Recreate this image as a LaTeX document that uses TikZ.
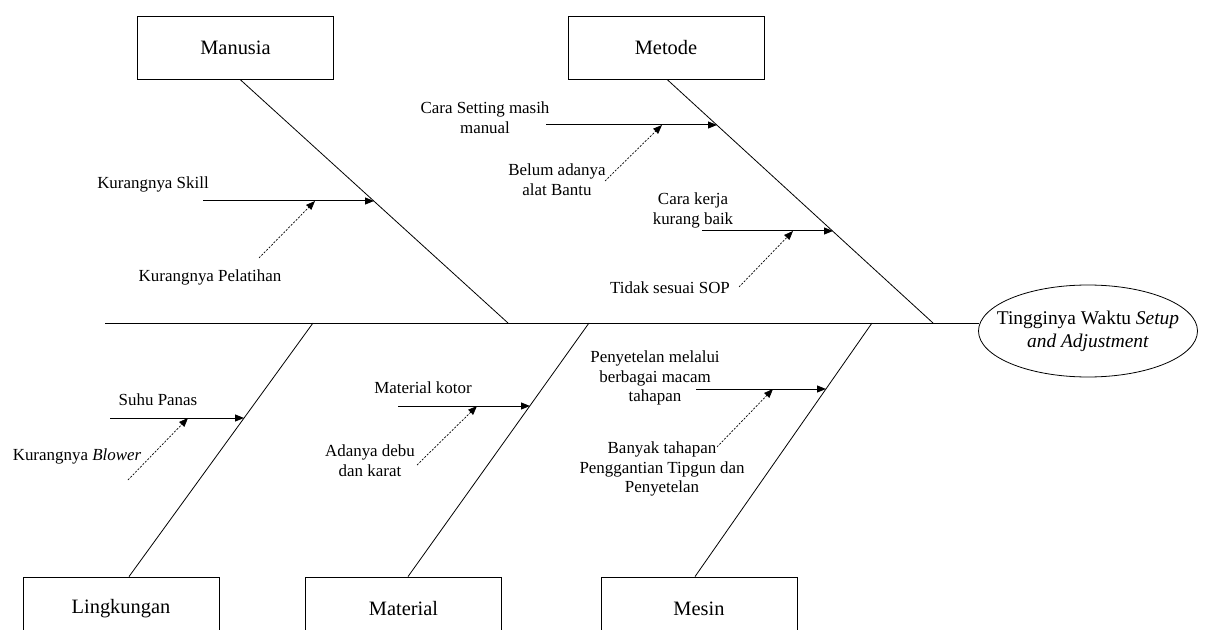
\documentclass[tikz,border=0pt]{standalone}
\usepackage{fontspec}
\setmainfont{Liberation Serif}
\usetikzlibrary{arrows.meta,shapes.geometric}
\begin{document}
\begin{tikzpicture}[x=1bp,y=-1bp,
  catbox/.style={draw,line width=0.8bp,minimum width=196bp,minimum height=63bp,inner sep=0pt,font=\fontsize{20.5}{24}\selectfont},
  cause/.style={align=center,inner sep=0pt,font=\fontsize{17}{20}\selectfont},
  bone/.style={line width=0.8bp},
  mainarrow/.style={line width=1bp,-{Triangle[length=9bp,width=7bp]}},
  subarrow/.style={line width=0.7bp,dash pattern=on 2bp off 1.5bp,-{Triangle[length=9bp,width=7bp]}}]
\useasboundingbox (0,0) rectangle (1205,630);
\clip (0,0) rectangle (1205,630);

% category boxes
\node[catbox] (man) at (235.5,47.5) {Manusia};
\node[catbox] (met) at (666,47.5) {Metode};
\node[catbox] (lin) at (121,608.5) {Lingkungan};
\node[catbox] (mat) at (403.5,608.5) {Material};
\node[catbox] (mes) at (699,608.5) {Mesin};

% effect: text with its ellipse outline
\node[align=center,inner sep=0pt,font=\fontsize{19.5}{23}\selectfont] (head) at (1088,331)
  {Tingginya Waktu \textit{Setup}\\\textit{and Adjustment}};
\draw[line width=0.8bp] (head.center) ellipse [x radius=109.5bp, y radius=46bp];
\coordinate (headW) at (979,323);

% spine
\coordinate (tail) at (105,323);
\draw[bone] (tail) -- (headW);

% joints on the spine
\coordinate (jman) at (508,323);
\coordinate (jmet) at (933,323);
\coordinate (jlin) at (313,323);
\coordinate (jmat) at (589,323);
\coordinate (jmes) at (872,323);

% main bones
\draw[bone] ([xshift=4.5bp]man.south) -- (jman);
\draw[bone] ([xshift=1bp]met.south) -- (jmet);
\draw[bone] ([xshift=8bp]lin.north) -- (jlin);
\draw[bone] ([xshift=4.5bp]mat.north) -- (jmat);
\draw[bone] ([xshift=-4bp]mes.north) -- (jmes);

% --- Manusia
\node[cause] (skill) at (153,184) {Kurangnya Skill};
\node[cause] (pelatihan) at (210,277) {Kurangnya Pelatihan};
\coordinate (skillA) at (203,201);
\coordinate (skillB) at (374,201);
\coordinate (skillM) at (315,201);
\coordinate (pelA) at (259,258);
\draw[mainarrow] (skillA) -- (skillB);
\draw[subarrow] (pelA) -- (skillM);

% --- Metode
\node[cause] (setting) at (485,118) {Cara Setting masih\\manual};
\node[cause] (belum) at (557,180) {Belum adanya\\alat Bantu};
\coordinate (setA) at (546,125);
\coordinate (setB) at (717,125);
\coordinate (setM) at (662,125);
\coordinate (belA) at (605,181);
\draw[mainarrow] (setA) -- (setB);
\draw[subarrow] (belA) -- (setM);

\node[cause] (kerja) at (693,210) {Cara kerja\\kurang baik};
\node[cause] (sop) at (670,288) {Tidak sesuai SOP};
\coordinate (kerA) at (702,231);
\coordinate (kerB) at (833,231);
\coordinate (kerM) at (793,231);
\coordinate (sopA) at (739,287);
\draw[mainarrow] (kerA) -- (kerB);
\draw[subarrow] (sopA) -- (kerM);

% --- Lingkungan
\node[cause] (suhu) at (158,400) {Suhu Panas};
\node[cause] (blower) at (77,456) {Kurangnya \textit{Blower}};
\coordinate (suhA) at (110,418);
\coordinate (suhB) at (244,418);
\coordinate (suhM) at (188,418);
\coordinate (blwA) at (128,480);
\draw[mainarrow] (suhA) -- (suhB);
\draw[subarrow] (blwA) -- (suhM);

% --- Material
\node[cause] (kotor) at (423,388) {Material kotor};
\node[cause] (debu) at (370,461) {Adanya debu\\dan karat};
\coordinate (kotA) at (398,406);
\coordinate (kotB) at (530,406);
\coordinate (kotM) at (477,406);
\coordinate (debA) at (417,465);
\draw[mainarrow] (kotA) -- (kotB);
\draw[subarrow] (debA) -- (kotM);

% --- Mesin
\node[cause] (penyetelan) at (655,378) {Penyetelan melalui\\berbagai macam\\tahapan};
\node[cause] (banyak) at (662,469) {Banyak tahapan\\Penggantian Tipgun dan\\Penyetelan};
\coordinate (penA) at (696,389);
\coordinate (penB) at (826,389);
\coordinate (penM) at (773,389);
\coordinate (banA) at (717,447);
\draw[mainarrow] (penA) -- (penB);
\draw[subarrow] (banA) -- (penM);
\end{tikzpicture}
\end{document}
